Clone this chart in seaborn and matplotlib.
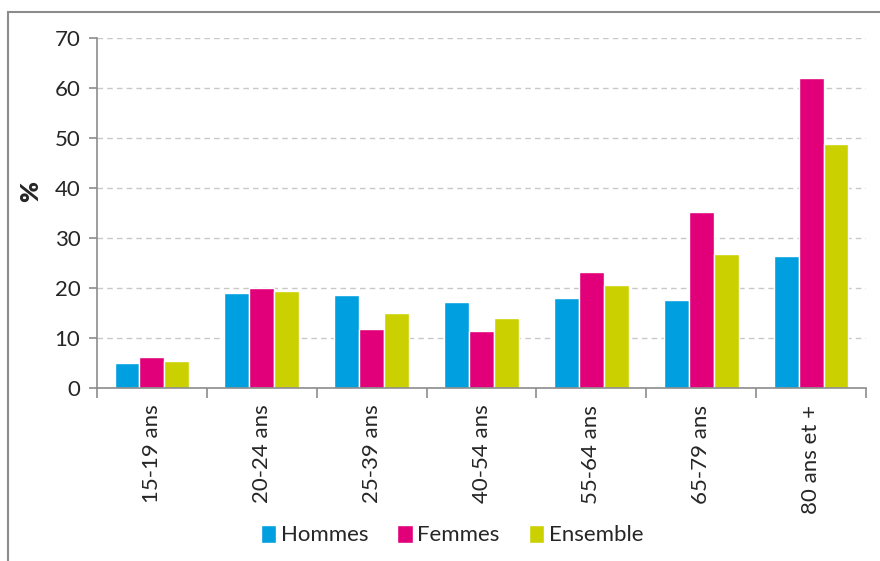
import matplotlib

matplotlib.use("Agg")
import matplotlib.pyplot as plt
import numpy as np
import pandas as pd
import seaborn as sns
from matplotlib.patches import Rectangle

AGE_GROUPS = ["15-19 ans", "20-24 ans", "25-39 ans", "40-54 ans", "55-64 ans", "65-79 ans", "80 ans et +"]
HOMMES = [5.0, 19.0, 18.6, 17.3, 18.0, 17.6, 26.5]
FEMMES = [6.2, 20.1, 11.8, 11.4, 23.2, 35.3, 62.0]
ENSEMBLE = [5.4, 19.4, 15.0, 14.1, 20.6, 26.9, 48.8]
SERIES = ["Hommes", "Femmes", "Ensemble"]
COLORS = ["#009FE0", "#E2007A", "#CBD100"]

frame = pd.DataFrame({"age": AGE_GROUPS, "Hommes": HOMMES, "Femmes": FEMMES, "Ensemble": ENSEMBLE})
long = frame.melt(id_vars="age", var_name="sexe", value_name="pct")

sns.set_theme(style="white")
plt.rcParams["font.family"] = ["Lato", "DejaVu Sans"]

fig = plt.figure(figsize=(8.8, 5.61), dpi=100)
ax = fig.add_axes([97 / 880, 1 - 388 / 561, (866 - 97) / 880, 350 / 561])

sns.barplot(
    data=long,
    x="age",
    y="pct",
    hue="sexe",
    hue_order=SERIES,
    palette=COLORS,
    width=0.68,
    saturation=1,
    ax=ax,
)

ax.set_xlim(-0.5, len(AGE_GROUPS) - 0.5)
ax.set_ylim(0, 70)
ax.set_yticks(np.arange(0, 71, 10))
ax.yaxis.grid(True, linestyle=(0, (4, 3)), color="#c8c8c8", linewidth=1)
ax.set_axisbelow(True)
for side in ["top", "right"]:
    ax.spines[side].set_visible(False)
for side in ["left", "bottom"]:
    ax.spines[side].set_color("#8c8c8c")
    ax.spines[side].set_linewidth(1.2)

ax.tick_params(axis="y", which="major", left=True, length=6, width=1.2, color="#8c8c8c", labelsize=16, pad=6)
ax.tick_params(axis="x", which="major", bottom=False, labelsize=16, pad=6)
ax.set_xticks(np.arange(-0.5, len(AGE_GROUPS), 1), minor=True)
ax.tick_params(axis="x", which="minor", bottom=True, length=7, width=1.2, color="#8c8c8c")
plt.setp(ax.get_xticklabels(), rotation=90)

ax.set_xlabel("")
ax.set_ylabel("%", fontsize=18, fontweight="heavy", va="center")
ax.yaxis.set_label_coords(-0.086, 0.56)

handles, labels = ax.get_legend_handles_labels()
ax.legend(
    handles,
    labels,
    loc="center",
    bbox_to_anchor=(452 / 880, 1 - 535 / 561),
    bbox_transform=fig.transFigure,
    ncol=3,
    frameon=False,
    fontsize=16,
    handlelength=0.7,
    handleheight=0.9,
    handletextpad=0.2,
    columnspacing=1.3,
)

fig.patches.append(
    Rectangle((8 / 880, -0.1), 1.2, 1 - 12 / 561 + 0.1, transform=fig.transFigure,
              fill=False, edgecolor="#8c8c8c", linewidth=1.5)
)

fig.savefig("out.png", dpi=100)
